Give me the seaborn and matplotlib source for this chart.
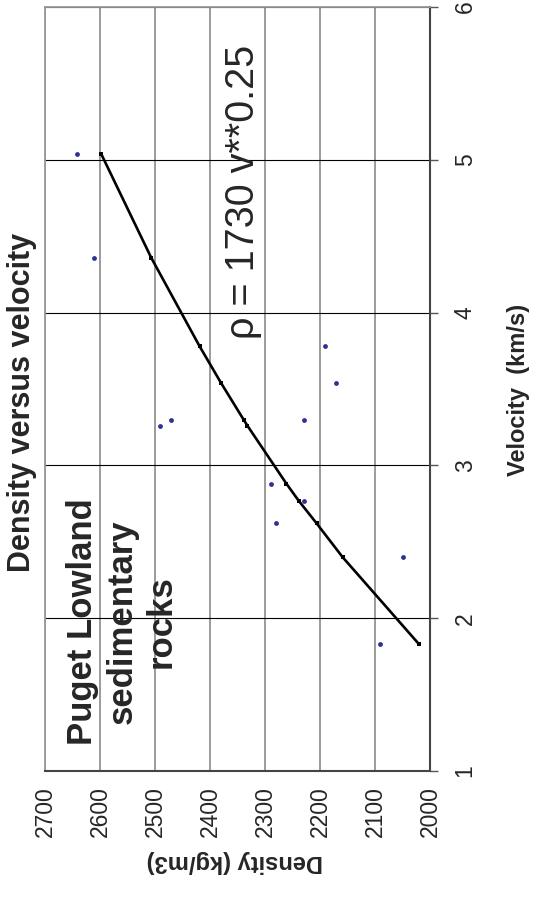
import matplotlib
matplotlib.use("Agg")
import matplotlib.pyplot as plt
import seaborn as sns
import pandas as pd

# Measured samples (velocity km/s, density kg/m3)
velocity = [5.04, 4.36, 3.78, 3.54, 3.26, 3.30, 3.30, 2.88, 2.77, 2.62, 2.40, 1.83]
density = [2641, 2610, 2191, 2171, 2491, 2471, 2230, 2290, 2230, 2280, 2050, 2091]

# Fitted curve points
fit_velocity = [1.83, 2.40, 2.62, 2.77, 2.88, 3.26, 3.30, 3.54, 3.78, 4.36, 5.04]
fit_density = [2020, 2159, 2206, 2239, 2261, 2332, 2339, 2380, 2419, 2507, 2598]

density_ticks = [2700, 2600, 2500, 2400, 2300, 2200, 2100, 2000]
velocity_ticks = [1, 2, 3, 4, 5, 6]

samples = pd.DataFrame({"Density": density, "Velocity": velocity})
fit = pd.DataFrame({"Density": fit_density, "Velocity": fit_velocity})

sns.set_style("white")
plt.rcParams["font.family"] = ["Liberation Sans", "DejaVu Sans"]

fig = plt.figure(figsize=(5.34, 8.98), dpi=100)
ax = fig.add_axes([45 / 534, 1 - 771 / 898, 385 / 534, 764 / 898])

# The whole chart is drawn turned a quarter turn: density runs along the bottom
sns.lineplot(data=fit, x="Density", y="Velocity", ax=ax, color="black", lw=1.9,
             marker="s", markersize=3.5, markeredgewidth=0, sort=False, estimator=None, zorder=3)
sns.scatterplot(data=samples, x="Density", y="Velocity", ax=ax, color="#2e3192",
                s=12, linewidth=0, zorder=4)

ax.set_xlim(2700, 2000)
ax.set_ylim(1, 6)
ax.set_xticks(density_ticks)
ax.set_yticks(velocity_ticks)
ax.set_xticklabels([str(t) for t in density_ticks], rotation=90, fontsize=16.5)
ax.set_yticklabels([str(t) for t in velocity_ticks], rotation=90, fontsize=16.5, va="center")
ax.yaxis.tick_right()
ax.tick_params(axis="x", direction="out", length=4, width=1, color="#555555", pad=7)
ax.tick_params(axis="y", direction="out", length=6, width=1, color="#555555", pad=11)

ax.set_axisbelow(True)
ax.xaxis.grid(True, color="#808080", lw=1.1)
ax.yaxis.grid(True, color="black", lw=0.8)

for side in ["left", "top"]:
    ax.spines[side].set_color("#999999")
    ax.spines[side].set_linewidth(1.3)
for side in ["right", "bottom"]:
    ax.spines[side].set_color("#444444")
    ax.spines[side].set_linewidth(1.5)

ax.set_xlabel("Density (kg/m3)", fontsize=17, fontweight="bold", rotation=180,
              ha="center", va="center")
ax.xaxis.set_label_coords(0.494, -0.119)
ax.set_ylabel("Velocity  (km/s)", fontsize=17, fontweight="bold", rotation=90,
              ha="center", va="center")
ax.yaxis.set_label_position("right")
ax.yaxis.set_label_coords(1.2, 0.499)

fig.text(22 / 534, 1 - 402 / 898, "Density versus velocity", rotation=90,
         fontsize=22, fontweight="bold", ha="center", va="center")

ax.text(2560, 1.975, "Puget Lowland\nsedimentary\nrocks", rotation=90, fontsize=25,
        fontweight="bold", ha="center", va="center", multialignment="center",
        linespacing=1.25)
ax.text(2340, 4.79, "\u03c1 = 1730 v**0.25", rotation=90, fontsize=28.5,
        ha="center", va="center")

fig.savefig("out.png", dpi=100)
